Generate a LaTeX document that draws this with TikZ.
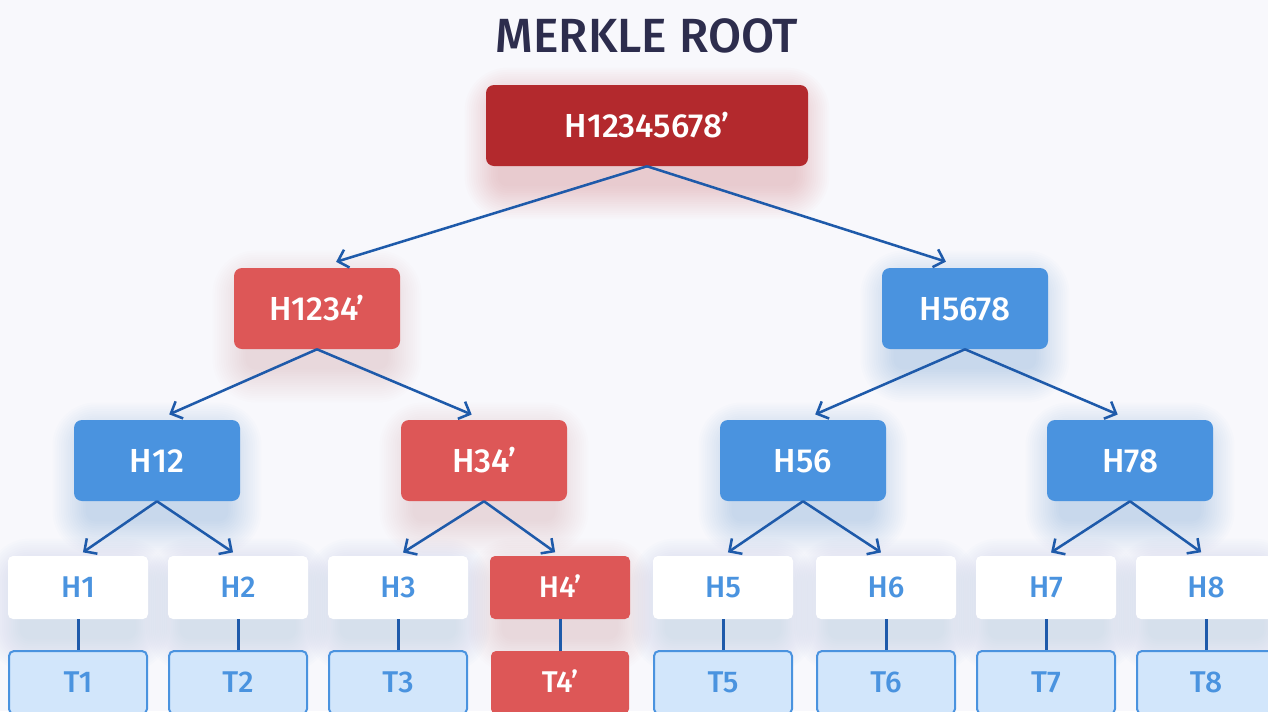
\documentclass[tikz,border=0pt]{standalone}
\usepackage{fontspec}
\setmainfont{Fira Sans}
\newfontfamily\medfont{Fira Sans Medium}
\usetikzlibrary{arrows.meta,calc}

\definecolor{bgc}{HTML}{F8F8FC}
\definecolor{titlec}{HTML}{2D2D4D}
\definecolor{rootred}{HTML}{B3292D}
\definecolor{hashred}{HTML}{DD5757}
\definecolor{hashblue}{HTML}{4A93DF}
\definecolor{edgeblue}{HTML}{1E5AAA}
\definecolor{txfill}{HTML}{D2E6FB}

\newdimen\pxu \pxu=0.75pt

\pgfdeclarelayer{bg}
\pgfdeclarelayer{glow}
\pgfsetlayers{bg,glow,main}

% soft coloured halo sitting slightly below a node
\newcommand{\halo}[3]{%
  \begin{pgfonlayer}{glow}
    \foreach \k [evaluate=\k as \r using 8+\k*2.2] in {1,...,16}{
      \fill[#2, fill opacity=#3, rounded corners=\r\pxu]
        ($(#1.south west)+(-\k*2.2+14, 18+\k*2.2)$) rectangle
        ($(#1.north east)+(\k*2.2-14, 18-\k*2.2)$);
    }
  \end{pgfonlayer}}

\tikzset{
  hashbox/.style={rounded corners=6pt, minimum width=124.5pt, minimum height=60.75pt,
    text=white, font=\medfont\fontsize{25}{28}\selectfont, text height=17.3pt, text depth=0pt, inner sep=0pt},
  redbox/.style={hashbox, fill=hashred},
  bluebox/.style={hashbox, fill=hashblue},
  leafbox/.style={rounded corners=3.75pt, minimum width=105pt, minimum height=47.25pt,
    font=\medfont\fontsize{22.5}{26}\selectfont, text height=15.5pt, text depth=0pt, inner sep=0pt},
  leafplain/.style={leafbox, fill=white, text=hashblue},
  leafred/.style={leafbox, fill=hashred, text=white},
  txbox/.style={leafbox, minimum width=103.5pt, fill=txfill, draw=hashblue, line width=1.5pt, text=hashblue},
  txred/.style={leafbox, minimum width=103.5pt, fill=hashred, text=white},
  arr/.style={draw=edgeblue, line width=1.9pt, -{Straight Barb[length=7pt, width=14pt, line width=1.9pt]}},
  link/.style={draw=edgeblue, line width=2.25pt},
}

\begin{document}
\begin{tikzpicture}[x=0.75pt, y=-0.75pt]
\begin{pgfonlayer}{bg}
  \fill[bgc] (0,0) rectangle (1268,711);
\end{pgfonlayer}
\useasboundingbox (0,0) rectangle (1268,711);

\node[anchor=base, text=titlec, font=\medfont\fontsize{36}{40}\selectfont] (title) at (647,52) {MERKLE ROOT};

% root and inner hashes
\node[hashbox, fill=rootred, minimum width=241.5pt] (root) at (647,125.5) {H12345678’};
\node[redbox]  (h1234) at (317,308.5) {H1234’};
\node[bluebox] (h5678) at (965,308.5) {H5678};
\node[bluebox] (h12)   at (157,460.5) {H12};
\node[redbox]  (h34)   at (484,460.5) {H34’};
\node[bluebox] (h56)   at (803,460.5) {H56};
\node[bluebox] (h78)   at (1130,460.5) {H78};

% leaf hashes
\node[leafplain] (h1) at (78,587.5)   {H1};
\node[leafplain] (h2) at (238,587.5)  {H2};
\node[leafplain] (h3) at (398,587.5)  {H3};
\node[leafred]   (h4) at (560,587.5)  {H4’};
\node[leafplain] (h5) at (723,587.5)  {H5};
\node[leafplain] (h6) at (886,587.5)  {H6};
\node[leafplain] (h7) at (1046,587.5) {H7};
\node[leafplain] (h8) at (1206,587.5) {H8};

% transactions
\node[txbox] (t1) at (78,682.5)   {T1};
\node[txbox] (t2) at (238,682.5)  {T2};
\node[txbox] (t3) at (398,682.5)  {T3};
\node[txred] (t4) at (560,682.5)  {T4’};
\node[txbox] (t5) at (723,682.5)  {T5};
\node[txbox] (t6) at (886,682.5)  {T6};
\node[txbox] (t7) at (1046,682.5) {T7};
\node[txbox] (t8) at (1206,682.5) {T8};

% halos
\halo{root}{rootred}{0.013}
\halo{h1234}{hashred}{0.013}
\halo{h34}{hashred}{0.013}
\halo{h5678}{hashblue}{0.016}
\halo{h12}{hashblue}{0.016}
\halo{h56}{hashblue}{0.016}
\halo{h78}{hashblue}{0.016}
\foreach \n in {h1,h2,h3,h5,h6,h7,h8}{\halo{\n}{hashblue}{0.01}}
\halo{h4}{hashred}{0.01}

% hash edges
\draw[arr, shorten >=15pt] (root.south) -- (h1234.north);
\draw[arr, shorten >=15pt] (root.south) -- (h5678.north);
\draw[arr, shorten >=10pt] (h1234.south) -- (h12.north);
\draw[arr, shorten >=10pt] (h1234.south) -- (h34.north);
\draw[arr, shorten >=10pt] (h5678.south) -- (h56.north);
\draw[arr, shorten >=10pt] (h5678.south) -- (h78.north);
\draw[arr, shorten >=4.5pt] (h12.south) -- (h1.north);
\draw[arr, shorten >=4.5pt] (h12.south) -- (h2.north);
\draw[arr, shorten >=4.5pt] (h34.south) -- (h3.north);
\draw[arr, shorten >=4.5pt] (h34.south) -- (h4.north);
\draw[arr, shorten >=4.5pt] (h56.south) -- (h5.north);
\draw[arr, shorten >=4.5pt] (h56.south) -- (h6.north);
\draw[arr, shorten >=4.5pt] (h78.south) -- (h7.north);
\draw[arr, shorten >=4.5pt] (h78.south) -- (h8.north);

% leaf to transaction links
\foreach \i in {1,...,8}{\draw[link] (h\i.south) -- (t\i.north);}
\end{tikzpicture}
\end{document}
